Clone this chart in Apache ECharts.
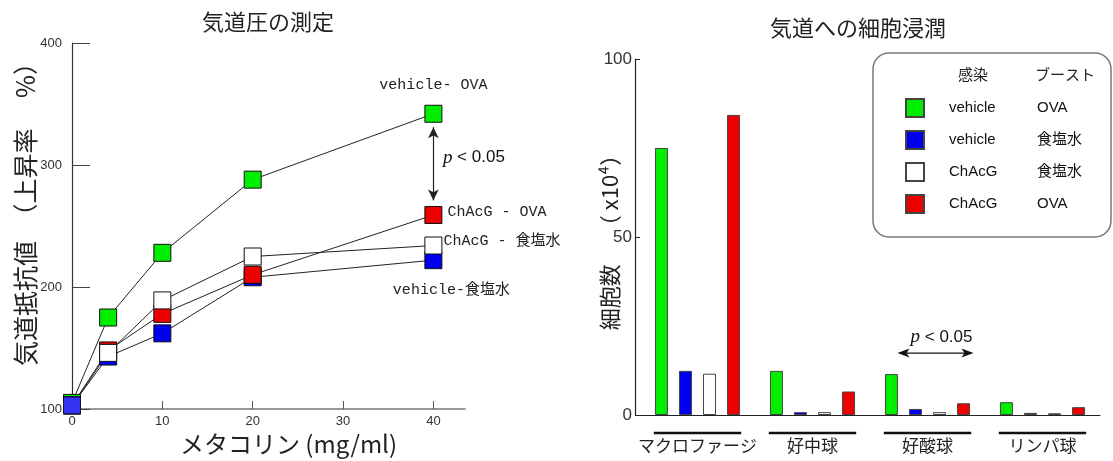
<!DOCTYPE html>
<html><head><meta charset="utf-8">
<script src="https://cdn.jsdelivr.net/npm/echarts@6/dist/echarts.min.js"></script>
<style>html,body{margin:0;padding:0;background:#fff}#c{width:1113px;height:461px}</style>
</head><body><div id="c"></div>
<script>
// ---- Left chart data (airway resistance, % rise) ----
const doses = [0, 4, 10, 20, 40];
const vehOVA   = [105, 175, 228, 288, 342];
const vehSaline= [103, 143, 162, 208, 222];
const chaSaline= [103, 146, 189, 225, 234];
const chaOVA   = [103, 148, 178, 210, 259];
const doseTicks = [0, 10, 20, 30, 40];

// ---- Right chart data (cell infiltration, x10^4) ----
const cellCats  = ['マクロファージ', '好中球', '好酸球', 'リンパ球'];
const barVehOVA    = [75, 12.4, 11.5, 3.6];
const barVehSaline = [12.4, 0.8, 1.7, 0.6];
const barChaSaline = [11.6, 0.8, 0.8, 0.5];
const barChaOVA    = [84.3, 6.6, 3.3, 2.2];
const legendInfect = ['vehicle', 'vehicle', 'ChAcG', 'ChAcG'];
const legendBoost  = ['OVA', '食塩水', '食塩水', 'OVA'];
const pBarCategory = '好酸球';
const pBarLevel = 17.4;
const pLineArrowFrom = 331, pLineArrowTo = 271, pLineLabelAt = 306;

const GREEN = '#00ee00', BLUE = '#0000ee', RED = '#ee0000', WHITE = '#ffffff';
const JP = '"Noto Sans CJK JP", sans-serif';
const MONO = '"Liberation Mono", "Noto Sans CJK JP", monospace';

const chart = echarts.init(document.getElementById('c'), null, {renderer: 'canvas'});

function lineSeries(name, vals, color, lastLabel) {
  const data = doses.map((d, i) => {
    const item = {value: [d, vals[i]]};
    if (i === doses.length - 1 && lastLabel) item.label = Object.assign({show: true, formatter: lastLabel.text, fontFamily: MONO, fontSize: 15, color: '#222'}, lastLabel.opts);
    return item;
  });
  return {
    type: 'line', name: name, xAxisIndex: 0, yAxisIndex: 0, data: data,
    symbol: 'rect', symbolSize: 17, showSymbol: true,
    lineStyle: {color: '#222', width: 1},
    itemStyle: {color: color, borderColor: '#111', borderWidth: 1},
    label: {show: false}, z: 3, animation: false
  };
}

const greenSeries = lineSeries('L-veh-OVA', vehOVA, GREEN, {text: 'vehicle- OVA', opts: {position: 'top', distance: 12}});
greenSeries.markLine = {
  silent: true, symbol: ['arrow', 'arrow'], symbolSize: [8, 11],
  lineStyle: {color: '#222', width: 1.2, type: 'solid'}, label: {show: false},
  data: [[{coord: [doses[4], pLineArrowFrom]}, {coord: [doses[4], pLineArrowTo]}]]
};
greenSeries.markPoint = {
  silent: true, symbol: 'rect', symbolSize: 1, itemStyle: {color: 'rgba(0,0,0,0)'},
  data: [{coord: [doses[4], pLineLabelAt]}],
  label: {show: true, position: 'right', distance: 9, formatter: '{i|p}{t| < 0.05}',
    rich: {i: {fontStyle: 'italic', fontFamily: '"Liberation Serif", serif', fontSize: 19, color: '#111'},
           t: {fontFamily: '"Liberation Sans", sans-serif', fontSize: 17, color: '#111'}}}
};

const blueSeries = lineSeries('L-veh-Sal', vehSaline, BLUE, {text: 'vehicle-食塩水', opts: {position: 'bottom', distance: 13, offset: [18, 0]}});
const redSeries = lineSeries('L-cha-OVA', chaOVA, RED, {text: 'ChAcG - OVA', opts: {position: 'right', distance: 5, offset: [0, -3]}});
const whiteSeries = lineSeries('L-cha-Sal', chaSaline, WHITE, {text: 'ChAcG - 食塩水', opts: {position: 'right', distance: 1, offset: [0, -4]}});

const blueFirst = {
  type: 'scatter', name: 'L-veh-Sal-0', xAxisIndex: 0, yAxisIndex: 0,
  data: [[doses[0], vehSaline[0]]], symbol: 'rect', symbolSize: 17,
  itemStyle: {color: BLUE, borderColor: '#111', borderWidth: 1}, z: 4, animation: false
};

function barSeries(name, vals, color) {
  return {
    type: 'bar', name: name, xAxisIndex: 1, yAxisIndex: 1, data: vals,
    barWidth: 13, barGap: '85%',
    itemStyle: {color: color, borderColor: '#444', borderWidth: 1},
    animation: false, z: 2
  };
}
const barNames = ['vehicle-OVA', 'vehicle-食塩水', 'ChAcG-食塩水', 'ChAcG-OVA'];

const option = {
  backgroundColor: '#fff',
  animation: false,
  title: [
    {text: '気道圧の測定', left: 263, top: 6, textAlign: 'center', textStyle: {fontFamily: JP, fontSize: 22, fontWeight: 'normal', color: '#222'}},
    {text: '気道への細胞浸潤', left: 853, top: 12, textAlign: 'center', textStyle: {fontFamily: JP, fontSize: 22, fontWeight: 'normal', color: '#222'}},
    {text: '{a|感染}{b|ブースト}', left: 953, top: 62, textStyle: {fontWeight: 'normal', rich: {
      a: {fontFamily: JP, fontSize: 15, fontWeight: 'normal', color: '#222', width: 77},
      b: {fontFamily: JP, fontSize: 15, fontWeight: 'normal', color: '#222'}}}}
  ],
  legend: {
    data: barNames, orient: 'vertical', left: 873, top: 53,
    padding: [45, 29, 23, 32], itemGap: 12, itemWidth: 18, itemHeight: 18, icon: 'rect',
    borderColor: '#777', borderWidth: 1.5, borderRadius: 16,
    selectedMode: false,
    formatter: function (name) { const i = barNames.indexOf(name); return '{a|' + legendInfect[i] + '}{b|' + legendBoost[i] + '}'; },
    textStyle: {rich: {
      a: {fontFamily: '"Liberation Sans", "Noto Sans CJK JP", sans-serif', fontSize: 15, color: '#111', width: 88, padding: [0, 0, 0, 20]},
      b: {fontFamily: '"Liberation Sans", "Noto Sans CJK JP", sans-serif', fontSize: 15, color: '#111', width: 50}
    }}
  },
  grid: [
    {left: 72, top: 43, width: 393, bottom: 52},
    {left: 640, top: 59, width: 460, bottom: 46}
  ],
  xAxis: [
    {type: 'value', gridIndex: 0, min: 0, max: 43.5,
     name: 'メタコリン (mg/ml)', nameLocation: 'middle', nameGap: 23, nameMoveOverlap: false,
     nameTextStyle: {fontFamily: JP, fontSize: 24, color: '#222', padding: [0, 0, 0, 40]},
     axisLine: {lineStyle: {color: '#777', width: 1.5}},
     axisTick: {show: true, inside: true, length: 8, customValues: doseTicks.filter(v => v > 0), lineStyle: {color: '#555'}},
     axisLabel: {customValues: doseTicks, margin: 6, fontFamily: '"Liberation Sans", sans-serif', fontSize: 13, color: '#333'},
     splitLine: {show: false}},
    {type: 'category', gridIndex: 1, data: cellCats,
     axisLine: {lineStyle: {color: '#222', width: 1.2}},
     axisTick: {show: false},
     axisLabel: {interval: 0, margin: 22, fontFamily: JP, fontSize: 17, color: '#222'}}
  ],
  yAxis: [
    {type: 'value', gridIndex: 0, min: 100, max: 400, interval: 100,
     name: '気道抵抗値　（上昇率　 %）', nameLocation: 'middle', nameGap: 34, nameRotate: 90, nameMoveOverlap: false,
     nameTextStyle: {fontFamily: JP, fontSize: 25, color: '#222', padding: [0, 0, 0, 36]},
     axisLine: {show: true, lineStyle: {color: '#333', width: 1.2}},
     axisTick: {show: true, inside: true, length: 18, lineStyle: {color: '#444'}},
     axisLabel: {margin: 10, fontFamily: '"Liberation Sans", sans-serif', fontSize: 13, color: '#333'},
     splitLine: {show: false}},
    {type: 'value', gridIndex: 1, min: 0, max: 100, interval: 50, offset: 5,
     name: '細胞数　 （ x10⁴）', nameLocation: 'middle', nameGap: 14, nameRotate: 90, nameMoveOverlap: false,
     nameTextStyle: {fontFamily: JP, fontSize: 22, color: '#222'},
     axisLine: {show: true, lineStyle: {color: '#222', width: 1.2}},
     axisTick: {show: true, inside: true, length: 5, lineStyle: {color: '#222'}},
     axisLabel: {margin: 3, fontFamily: '"Liberation Sans Narrow", "Liberation Sans", sans-serif', fontSize: 17, color: '#333'},
     splitLine: {show: false}}
  ],
  series: [
    greenSeries, blueSeries, redSeries, whiteSeries, blueFirst,
    barSeries(barNames[0], barVehOVA, GREEN),
    barSeries(barNames[1], barVehSaline, BLUE),
    barSeries(barNames[2], barChaSaline, WHITE),
    barSeries(barNames[3], barChaOVA, RED),
    {
      type: 'custom', name: 'groupLines', xAxisIndex: 1, yAxisIndex: 1, silent: true, clip: false,
      data: cellCats.map((c, i) => [i, 0]), encode: {x: 0, y: 1},
      renderItem: function (params, api) {
        const p = api.coord([api.value(0), 0]);
        const half = api.size([1, 0])[0] * 0.38;
        return {type: 'line', shape: {x1: p[0] - half, y1: p[1] + 18, x2: p[0] + half, y2: p[1] + 18},
                style: {stroke: '#111', lineWidth: 2.5}};
      }
    },
    {
      type: 'custom', name: 'pBar', xAxisIndex: 1, yAxisIndex: 1, silent: true, clip: false,
      data: [[cellCats.indexOf(pBarCategory), pBarLevel]], encode: {x: 0, y: 1},
      renderItem: function (params, api) {
        const p = api.coord([api.value(0), api.value(1)]);
        const x1 = p[0] - 30, x2 = p[0] + 46, y = p[1];
        return {type: 'group', children: [
          {type: 'line', shape: {x1: x1 + 6, y1: y, x2: x2 - 6, y2: y}, style: {stroke: '#111', lineWidth: 1.2}},
          {type: 'polygon', shape: {points: [[x1, y], [x1 + 12, y - 4.5], [x1 + 9, y], [x1 + 12, y + 4.5]]}, style: {fill: '#111'}},
          {type: 'polygon', shape: {points: [[x2, y], [x2 - 12, y - 4.5], [x2 - 9, y], [x2 - 12, y + 4.5]]}, style: {fill: '#111'}},
          {type: 'text', x: p[0] + 14, y: y - 16, style: {text: '{i|p}{t| < 0.05}', align: 'center', verticalAlign: 'middle',
            rich: {i: {fontStyle: 'italic', fontFamily: '"Liberation Serif", serif', fontSize: 19, fill: '#111'},
                   t: {fontFamily: '"Liberation Sans", sans-serif', fontSize: 17, fill: '#111'}}}}
        ]};
      }
    }
  ]
};
chart.setOption(option);
</script>
</body></html>
